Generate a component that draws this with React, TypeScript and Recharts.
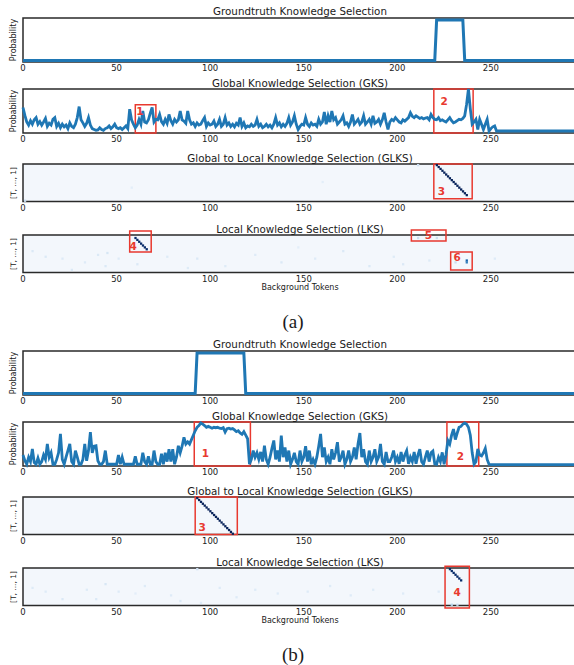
import React from "react";
import { LineChart, Line, ScatterChart, Scatter, XAxis, YAxis, ReferenceArea, ReferenceDot } from "recharts";

// ---- data ----
const xTicks = [0, 50, 100, 150, 200, 250];
const tokenEnd = 296;
const rowsT = 20;

// groundtruth step: [token, probability]
const gtA: [number, number][] = [[0, 0], [220, 0], [221, 1], [235, 1], [236, 0], [296, 0]];
const gtB: [number, number][] = [[0, 0], [92, 0], [93, 1], [118, 1], [119, 0], [296, 0]];

// GKS probabilities, one per token from 0, then flat tail to tokenEnd
const gksA = [
  0.58, 0.4, 0.25, 0.18, 0.28, 0.2, 0.3, 0.35, 0.2, 0.26,
  0.18, 0.25, 0.33, 0.15, 0.22, 0.18, 0.31, 0.35, 0.15, 0.22,
  0.12, 0.2, 0.14, 0.18, 0.1, 0.23, 0.15, 0.12, 0.2, 0.35,
  0.6, 0.3, 0.23, 0.15, 0.22, 0.35, 0.18, 0.1, 0.08, 0.06,
  0.07, 0.12, 0.08, 0.06, 0.1, 0.12, 0.16, 0.1, 0.14, 0.2,
  0.12, 0.1, 0.12, 0.08, 0.12, 0.16, 0.1, 0.54, 0.3, 0.2,
  0.12, 0.18, 0.31, 0.2, 0.5, 0.25, 0.23, 0.3, 0.45, 0.58,
  0.25, 0.31, 0.3, 0.42, 0.26, 0.2, 0.31, 0.22, 0.42, 0.28,
  0.2, 0.31, 0.25, 0.3, 0.5, 0.3, 0.27, 0.22, 0.5, 0.3,
  0.2, 0.23, 0.15, 0.23, 0.18, 0.2, 0.28, 0.35, 0.15, 0.23,
  0.18, 0.2, 0.27, 0.15, 0.2, 0.31, 0.15, 0.2, 0.35, 0.18,
  0.23, 0.15, 0.2, 0.14, 0.22, 0.18, 0.35, 0.15, 0.23, 0.12,
  0.16, 0.14, 0.2, 0.15, 0.18, 0.31, 0.15, 0.2, 0.12, 0.15,
  0.2, 0.14, 0.18, 0.12, 0.2, 0.35, 0.18, 0.23, 0.14, 0.2,
  0.15, 0.22, 0.35, 0.18, 0.25, 0.39, 0.2, 0.08, 0.15, 0.2,
  0.18, 0.35, 0.2, 0.15, 0.23, 0.18, 0.2, 0.15, 0.31, 0.2,
  0.25, 0.48, 0.2, 0.39, 0.25, 0.5, 0.3, 0.35, 0.2, 0.25,
  0.3, 0.39, 0.2, 0.23, 0.15, 0.25, 0.42, 0.2, 0.25, 0.31,
  0.2, 0.25, 0.39, 0.2, 0.25, 0.31, 0.2, 0.39, 0.22, 0.25,
  0.31, 0.2, 0.3, 0.46, 0.25, 0.08, 0.25, 0.31, 0.28, 0.35,
  0.3, 0.25, 0.23, 0.3, 0.27, 0.31, 0.35, 0.46, 0.38, 0.35,
  0.39, 0.36, 0.33, 0.35, 0.32, 0.34, 0.35, 0.3, 0.42, 0.35,
  0.31, 0.3, 0.35, 0.28, 0.3, 0.27, 0.25, 0.3, 0.35, 0.28,
  0.23, 0.25, 0.28, 0.31, 0.3, 0.33, 0.39, 0.65, 1.0, 0.55,
  0.2, 0.25, 0.31, 0.08, 0.31, 0.2, 0.08, 0.2, 0.31, 0.045,
  0.1, 0.14, 0.16, 0.045,
];
const gksATail = 0.045;

const gksB = [
  0.25, 0.12, 0.04, 0.2, 0.1, 0.39, 0.08, 0.04, 0.18, 0.04,
  0.1, 0.25, 0.15, 0.5, 0.2, 0.3, 0.04, 0.04, 0.15, 0.3,
  0.73, 0.15, 0.04, 0.2, 0.35, 0.5, 0.1, 0.04, 0.35, 0.2,
  0.04, 0.04, 0.15, 0.5, 0.12, 0.35, 0.77, 0.3, 0.45, 0.46,
  0.12, 0.04, 0.04, 0.1, 0.35, 0.04, 0.04, 0.04, 0.04, 0.04,
  0.04, 0.25, 0.04, 0.2, 0.04, 0.04, 0.04, 0.04, 0.04, 0.04,
  0.22, 0.04, 0.04, 0.04, 0.3, 0.1, 0.04, 0.22, 0.04, 0.04,
  0.35, 0.1, 0.04, 0.04, 0.28, 0.04, 0.3, 0.1, 0.38, 0.1,
  0.38, 0.04, 0.2, 0.46, 0.3, 0.45, 0.65, 0.5, 0.55, 0.5,
  0.6, 0.7, 0.8, 0.88, 0.92, 0.98, 0.95, 0.92, 0.88, 0.9,
  0.88, 0.86, 0.88, 0.87, 0.88, 0.86, 0.85, 0.87, 0.77, 0.85,
  0.86, 0.84, 0.85, 0.82, 0.78, 0.8, 0.75, 0.72, 0.78, 0.7,
  0.62, 0.04, 0.15, 0.35, 0.2, 0.3, 0.15, 0.32, 0.1, 0.46,
  0.15, 0.04, 0.2, 0.4, 0.58, 0.15, 0.35, 0.1, 0.69, 0.2,
  0.42, 0.1, 0.35, 0.04, 0.15, 0.3, 0.1, 0.04, 0.35, 0.1,
  0.2, 0.45, 0.1, 0.35, 0.04, 0.15, 0.04, 0.2, 0.45, 0.73,
  0.2, 0.42, 0.1, 0.2, 0.04, 0.38, 0.15, 0.3, 0.54, 0.1,
  0.2, 0.35, 0.04, 0.15, 0.35, 0.1, 0.2, 0.42, 0.15, 0.5,
  0.75, 0.2, 0.38, 0.1, 0.04, 0.35, 0.1, 0.2, 0.38, 0.1,
  0.2, 0.5, 0.1, 0.04, 0.32, 0.1, 0.1, 0.2, 0.35, 0.1,
  0.2, 0.05, 0.32, 0.1, 0.25, 0.35, 0.05, 0.2, 0.1, 0.32,
  0.05, 0.25, 0.38, 0.1, 0.04, 0.2, 0.35, 0.1, 0.3, 0.34,
  0.05, 0.04, 0.2, 0.1, 0.31, 0.04, 0.25, 0.58, 0.5, 0.7,
  0.84, 0.6, 0.75, 0.88, 0.9, 0.95, 0.98, 0.95, 0.88, 0.7,
  0.3, 0.04, 0.1, 0.39, 0.25, 0.23, 0.3, 0.4, 0.15, 0.04,
  0.03,
];
const gksBTail = 0.03;

// heatmap cells: [token, row (0 = top, i.e. T), intensity]
const glksACells: [number, number, number][] = [
  [221, 0, 1], [222, 1, 1], [223, 2, 1], [224, 3, 1], [225, 4, 1], [226, 5, 1],
  [227, 6, 1], [228, 7, 1], [229, 8, 1], [230, 9, 1], [231, 10, 1], [232, 11, 1],
  [233, 12, 1], [234, 13, 1], [235, 14, 1], [236, 15, 1], [237, 16, 1],
  [1, 19, 0.25], [211, 0, 0.2], [58, 12, 0.08], [160, 9, 0.08],
];
const lksACells: [number, number, number][] = [
  [60, 1, 0.95], [61, 2, 0.95], [62, 3, 0.95], [63, 4, 0.95], [64, 5, 0.95], [65, 6, 0.95], [66, 7, 0.95],
  [211, 1, 0.22], [221, 1, 0.22], [237, 13, 0.7], [237, 14, 0.6], [231, 14, 0.22],
  [5, 8, 0.12], [12, 11, 0.12], [21, 12, 0.1], [26, 18, 0.12], [40, 10, 0.12], [45, 9, 0.15],
  [44, 16, 0.12], [51, 12, 0.1], [61, 15, 0.12], [77, 11, 0.1], [93, 12, 0.12], [108, 16, 0.1],
  [124, 10, 0.1], [138, 14, 0.12], [156, 12, 0.1], [171, 8, 0.12], [185, 16, 0.12], [198, 11, 0.1],
  [203, 15, 0.12], [217, 13, 0.1], [252, 12, 0.1], [33, 14, 0.1], [88, 17, 0.1], [147, 6, 0.08],
];
const glksBCells: [number, number, number][] = [
  [93, 0, 1], [94, 1, 1], [95, 2, 1], [96, 3, 1], [97, 4, 1], [98, 5, 1], [99, 6, 1],
  [100, 7, 1], [101, 8, 1], [102, 9, 1], [103, 10, 1], [104, 11, 1], [105, 12, 1], [106, 13, 1],
  [107, 14, 1], [108, 15, 1], [109, 16, 1], [110, 17, 1], [111, 18, 1], [112, 19, 1],
];
const lksBCells: [number, number, number][] = [
  [228, 0, 0.95], [229, 1, 0.95], [230, 2, 0.95], [231, 3, 0.95], [232, 4, 0.95], [233, 5, 0.95], [234, 6, 0.95],
  [229, 19, 0.28], [232, 19, 0.22], [93, 0, 0.2],
  [5, 10, 0.1], [12, 12, 0.1], [21, 16, 0.12], [34, 11, 0.1], [39, 16, 0.12], [44, 8, 0.14],
  [51, 12, 0.1], [65, 9, 0.1], [79, 14, 0.1], [84, 17, 0.12], [105, 10, 0.1], [114, 15, 0.1],
  [124, 11, 0.1], [136, 13, 0.1], [152, 12, 0.1], [164, 9, 0.1], [175, 14, 0.1], [187, 11, 0.1],
  [203, 13, 0.1], [222, 12, 0.1], [60, 13, 0.08], [95, 18, 0.1],
];

// annotation boxes: token range, value range, label anchor
type Box = { id: string; x1: number; x2: number; y1: number; y2: number; lx: number; ly: number };
const gksABoxes: Box[] = [
  { id: "1", x1: 60, x2: 71, y1: 0, y2: 0.64, lx: 62.5, ly: 0.5 },
  { id: "2", x1: 219.5, x2: 240.5, y1: 0, y2: 1, lx: 225, ly: 0.72 },
];
const glksABoxes: Box[] = [{ id: "3", x1: 219.5, x2: 240, y1: 1.5, y2: 20, lx: 223.5, ly: 5.5 }];
const lksABoxes: Box[] = [
  { id: "4", x1: 57, x2: 68.5, y1: 11, y2: 22.2, lx: 58.8, ly: 14 },
  { id: "5", x1: 207.5, x2: 226, y1: 16.8, y2: 22.7, lx: 216.6, ly: 19.8 },
  { id: "6", x1: 228.5, x2: 240, y1: 1.4, y2: 11, lx: 232, ly: 8.3 },
];
const gksBBoxes: Box[] = [
  { id: "1", x1: 91.5, x2: 121.5, y1: 0, y2: 1, lx: 97.5, ly: 0.28 },
  { id: "2", x1: 226.5, x2: 243.5, y1: 0, y2: 1, lx: 233.7, ly: 0.23 },
];
const glksBBoxes: Box[] = [{ id: "3", x1: 92, x2: 114.5, y1: 0, y2: 20, lx: 95.7, ly: 4 }];
const lksBBoxes: Box[] = [{ id: "4", x1: 225.5, x2: 238.5, y1: -1.3, y2: 20.9, lx: 232, ly: 6.8 }];

// ---- layout ----
const CW = 600;
const LEFT = 23;
const PLOT_W = 554;
const PAD = 7;
const AXIS_H = 16;
const FONT = "DejaVu Sans";
const RED = "#e8392f";

const blueStops: [number, number[]][] = [
  [0, [247, 251, 255]], [0.1, [222, 235, 247]], [0.25, [198, 219, 239]], [0.45, [107, 174, 214]],
  [0.65, [33, 113, 181]], [0.8, [8, 69, 148]], [1, [8, 35, 90]],
];
function blues(v: number) {
  for (let i = 1; i < blueStops.length; i++) {
    const [p1, c1] = blueStops[i];
    const [p0, c0] = blueStops[i - 1];
    if (v <= p1) {
      const k = (v - p0) / (p1 - p0);
      const c = c0.map((a, j) => Math.round(a + (c1[j] - a) * k));
      return `rgb(${c[0]},${c[1]},${c[2]})`;
    }
  }
  return "rgb(8,35,90)";
}

const tickStyle = { fontSize: 8.5, fill: "#222", fontFamily: FONT };

function xAxis() {
  return (
    <XAxis type="number" dataKey="t" domain={[0, tokenEnd]} ticks={xTicks} interval={0} axisLine={false}
      tickLine={false} tickSize={1} tickMargin={2} height={AXIS_H} tick={tickStyle} />
  );
}

function boxMarks(boxes: Box[]) {
  return boxes.flatMap((b) => [
    <ReferenceArea key={"a" + b.id} x1={b.x1} x2={b.x2} y1={b.y1} y2={b.y2} fill="none" fillOpacity={0}
      stroke={RED} strokeWidth={1.5} ifOverflow="visible" />,
    <ReferenceDot key={"d" + b.id} x={b.lx} y={b.ly} r={0.01} fill="none" stroke="none" ifOverflow="visible"
      label={{ value: b.id, position: "center", fill: RED, fontSize: 10.5, fontWeight: "bold", fontFamily: FONT }} />,
  ]);
}

function frame(y0: number, y1: number) {
  return <ReferenceArea x1={0} x2={tokenEnd} y1={y0} y2={y1} fill="none" fillOpacity={0} stroke="#2a2a2a" strokeWidth={1.5} ifOverflow="visible" />;
}

function LinePlot({ data, top, h, dom, boxes, sw }: { data: { t: number; p: number }[]; top: number; h: number; dom: [number, number]; boxes: Box[]; sw: number }) {
  return (
    <div style={{ position: "absolute", left: 0, top: top - PAD }}>
      <LineChart width={CW} height={h + PAD + AXIS_H} data={data}
        margin={{ top: PAD, right: CW - LEFT - PLOT_W, bottom: 0, left: LEFT }}>
        {xAxis()}
        <YAxis hide type="number" domain={dom} />
        <Line type="linear" dataKey="p" stroke="#1f77b4" strokeWidth={sw} dot={false} isAnimationActive={false} />
        {frame(dom[0], dom[1])}
        {boxMarks(boxes)}
      </LineChart>
    </div>
  );
}

function HeatPlot({ cells, top, h, boxes }: { cells: [number, number, number][]; top: number; h: number; boxes: Box[] }) {
  const data = cells.map(([t, r, v]) => ({ t, y: rowsT - r - 0.5, v }));
  const cw = PLOT_W / tokenEnd;
  const ch = h / rowsT;
  return (
    <div style={{ position: "absolute", left: 0, top: top - PAD }}>
      <ScatterChart width={CW} height={h + PAD + AXIS_H}
        margin={{ top: PAD, right: CW - LEFT - PLOT_W, bottom: 0, left: LEFT }}>
        {xAxis()}
        <YAxis hide type="number" dataKey="y" domain={[0, rowsT]} />
        <ReferenceArea x1={0} x2={tokenEnd} y1={0} y2={rowsT} fill="#f3f7fc" fillOpacity={1} stroke="none" />
        <Scatter data={data} isAnimationActive={false}
          shape={(p: any) => (
            <rect x={p.cx - cw / 2} y={p.cy - ch / 2} width={cw + 0.4} height={ch + 0.4} fill={blues(p.payload.v)} />
          )} />
        {frame(0, rowsT)}
        {boxMarks(boxes)}
      </ScatterChart>
    </div>
  );
}

function Txt({ x, y, size, children, rotate, serif }: { x: number; y: number; size: number; children: React.ReactNode; rotate?: boolean; serif?: boolean }) {
  return (
    <div style={{
      position: "absolute", left: x, top: y, transform: `translate(-50%, -50%)${rotate ? " rotate(-90deg)" : ""}`,
      fontSize: size, fontFamily: serif ? "Liberation Serif" : FONT, whiteSpace: "nowrap", lineHeight: 1, color: "#1a1a1a",
    }}>{children}</div>
  );
}

function Panel({ y0, gt, gks, gksBoxes, glks, glksBoxes, lks, lksBoxes, tag }: any) {
  // subplot frames relative to panel top
  const s = [
    { top: y0 + 18, h: 44, title: "Groundtruth Knowledge Selection", ty: y0 + 11 },
    { top: y0 + 89, h: 44, title: "Global Knowledge Selection (GKS)", ty: y0 + 83 },
    { top: y0 + 164, h: 37.5, title: "Global to Local Knowledge Selection (GLKS)", ty: y0 + 158 },
    { top: y0 + 235, h: 37.5, title: "Local Knowledge Selection (LKS)", ty: y0 + 229 },
  ];
  const cx = LEFT + PLOT_W / 2;
  return (
    <>
      <LinePlot data={gt} top={s[0].top} h={s[0].h} dom={[-0.04, 1.05]} boxes={[]} sw={3} />
      <LinePlot data={gks} top={s[1].top} h={s[1].h} dom={[0, 1]} boxes={gksBoxes} sw={2.8} />
      <HeatPlot cells={glks} top={s[2].top} h={s[2].h} boxes={glksBoxes} />
      <HeatPlot cells={lks} top={s[3].top} h={s[3].h} boxes={lksBoxes} />
      {s.map((p) => <Txt key={p.title} x={cx} y={p.ty} size={10.3}>{p.title}</Txt>)}
      <Txt x={14} y={s[0].top + s[0].h / 2} size={8}>{null}</Txt>
      <Txt x={14} y={s[0].top + s[0].h / 2} size={8} rotate>Probability</Txt>
      <Txt x={14} y={s[1].top + s[1].h / 2} size={8} rotate>Probability</Txt>
      <Txt x={14} y={s[2].top + s[2].h / 2} size={7.5} rotate>[T, ..., 1]</Txt>
      <Txt x={14} y={s[3].top + s[3].h / 2} size={7.5} rotate>[T, ..., 1]</Txt>
      <Txt x={cx} y={y0 + 288} size={8}>Background Tokens</Txt>
      <Txt x={293} y={y0 + 321} size={19} serif>{tag}</Txt>
    </>
  );
}

const stepData = (pts: [number, number][]) => pts.map(([t, p]) => ({ t, p }));
const gksData = (vals: number[], tail: number) => [...vals.map((p, t) => ({ t, p })), { t: tokenEnd, p: tail }];

export default function App() {
  return (
    <div style={{ position: "absolute", left: 0, top: 0, width: 574, height: 665, overflow: "hidden", background: "#fff" }}>
      <Panel y0={0} gt={stepData(gtA)} gks={gksData(gksA, gksATail)} gksBoxes={gksABoxes}
        glks={glksACells} glksBoxes={glksABoxes} lks={lksACells} lksBoxes={lksABoxes} tag="(a)" />
      <Panel y0={333} gt={stepData(gtB)} gks={gksData(gksB, gksBTail)} gksBoxes={gksBBoxes}
        glks={glksBCells} glksBoxes={glksBBoxes} lks={lksBCells} lksBoxes={lksBBoxes} tag="(b)" />
    </div>
  );
}
